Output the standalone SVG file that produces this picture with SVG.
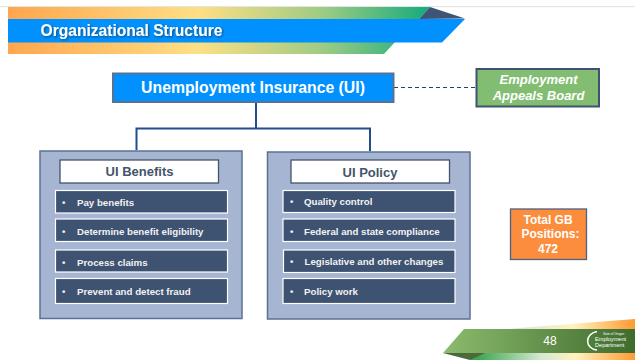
<svg xmlns="http://www.w3.org/2000/svg" width="635" height="360" viewBox="0 0 635 360">
<style>
text{font-family:"Liberation Sans",Arial,sans-serif;font-weight:700}
.panel{fill:#a5b5d2;stroke:#5a7194;stroke-width:1.5}
.head{fill:#fff;stroke:#44546a;stroke-width:1.3}
.headt{fill:#44546a;font-size:13px;text-anchor:middle}
.item{fill:#3e5271;stroke:#fff;stroke-width:1.2}
.itemt{fill:#f2f2f2;font-size:9.7px}
.wc{fill:#fff;text-anchor:middle}
.conn{fill:none;stroke:#1f4e8f;stroke-width:2}
.foot{fill:#fff;font-weight:400}
</style>
<defs>
<linearGradient id="g1" gradientUnits="userSpaceOnUse" x1="8" y1="0" x2="430" y2="0">
<stop offset="0" stop-color="#ffa64d"/><stop offset=".45" stop-color="#fedf85"/><stop offset=".75" stop-color="#9ccb84"/><stop offset="1" stop-color="#14ab7c"/>
</linearGradient>
<linearGradient id="g2" gradientUnits="userSpaceOnUse" x1="442" y1="0" x2="635" y2="0">
<stop offset="0" stop-color="#8cbc6e"/><stop offset="1" stop-color="#3f6b2d"/>
</linearGradient>
<linearGradient id="g3" gradientUnits="userSpaceOnUse" x1="510" y1="0" x2="635" y2="0">
<stop offset="0" stop-color="#cfe6d8"/><stop offset=".5" stop-color="#fff3c0"/><stop offset="1" stop-color="#ff9a33"/>
</linearGradient>
<linearGradient id="g4" gradientUnits="userSpaceOnUse" x1="478" y1="0" x2="635" y2="0">
<stop offset="0" stop-color="#3fa652"/><stop offset=".4" stop-color="#d5e8d0"/><stop offset=".62" stop-color="#fff3c0"/><stop offset="1" stop-color="#ff9a33"/>
</linearGradient>
<filter id="sh" x="-5%" y="-30%" width="110%" height="160%"><feDropShadow dx="1" dy="1" stdDeviation=".8" flood-color="#222" flood-opacity=".6"/></filter>
</defs>
<rect x="0" y="6" width="635" height="1.2" fill="#e4e4e4"/>
<g id="banner">
<polygon points="8,7 430,7 419,19 8,19" fill="url(#g1)"/>
<polygon points="8,42 395,42 384,54 8,54" fill="url(#g1)"/>
<polygon points="430,7 465,18.500 419,19" fill="#3e5575"/>
<polygon points="8,19 465,19 442,42.500 8,42.500" fill="#0091ff"/>
<text x="40.500" y="36" font-size="15.600" fill="#fff" filter="url(#sh)">Organizational Structure</text>
</g>
<g id="connectors">
<path class="conn" d="M256 102V128.500M136.500 150V128.500H370V151"/>
<path d="M394 87.500H476" fill="none" stroke="#1f3f75" stroke-width="1.200" stroke-dasharray="4 3"/>
</g>
<g id="node-ui">
<rect x="113" y="73.500" width="280.500" height="28.500" fill="#0091ff" stroke="#5a7194" stroke-width="2"/>
<text x="253" y="92.500" font-size="15.800" fill="#fff" text-anchor="middle">Unemployment Insurance (UI)</text>
</g>
<g id="node-appeals">
<rect x="476.500" y="69" width="122.500" height="37.500" fill="#82bd72" stroke="#3e5271" stroke-width="2"/>
<text x="538.500" y="84" font-size="13" font-style="italic" class="wc">Employment</text>
<text x="538.500" y="100" font-size="13" font-style="italic" class="wc">Appeals Board</text>
</g>
<g id="node-benefits">
<rect class="panel" x="40" y="151" width="202" height="167.500"/>
<rect class="head" x="60" y="160" width="158.500" height="23"/>
<text class="headt" x="139.500" y="176">UI Benefits</text>
<rect class="item" x="55.500" y="190.500" width="172" height="22.500"/>
<text class="itemt" x="62" y="206">•</text><text class="itemt" x="77" y="206">Pay benefits</text>
<rect class="item" x="55.500" y="219" width="172" height="22.500"/>
<text class="itemt" x="62" y="235">•</text><text class="itemt" x="77" y="235">Determine benefit eligibility</text>
<rect class="item" x="55.500" y="250" width="172" height="22"/>
<text class="itemt" x="62" y="265.500">•</text><text class="itemt" x="77" y="265.500">Process claims</text>
<rect class="item" x="55.500" y="278.500" width="172" height="25"/>
<text class="itemt" x="62" y="295">•</text><text class="itemt" x="77" y="295">Prevent and detect fraud</text>
</g>
<g id="node-policy">
<rect class="panel" x="267.500" y="152" width="202.500" height="167"/>
<rect class="head" x="291" y="160" width="158.500" height="23"/>
<text class="headt" x="370" y="176.500">UI Policy</text>
<rect class="item" x="283" y="190.500" width="172" height="22"/>
<text class="itemt" x="290" y="205">•</text><text class="itemt" x="304" y="205">Quality control</text>
<rect class="item" x="283" y="219" width="172" height="22.500"/>
<text class="itemt" x="290" y="234.500">•</text><text class="itemt" x="304" y="234.500">Federal and state compliance</text>
<rect class="item" x="283.500" y="250" width="171.500" height="22.500"/>
<text class="itemt" x="290" y="265">•</text><text class="itemt" x="304.500" y="265">Legislative and other changes</text>
<rect class="item" x="283" y="278.500" width="172" height="25"/>
<text class="itemt" x="290" y="295">•</text><text class="itemt" x="304" y="295">Policy work</text>
</g>
<g id="node-total">
<rect x="510.500" y="209" width="76" height="50.500" fill="#fb8d3d" stroke="#4f6080" stroke-width="1.300"/>
<text x="548" y="224" font-size="12" class="wc">Total GB</text>
<text x="550.500" y="238" font-size="12" class="wc">Positions:</text>
<text x="548" y="253" font-size="12" class="wc">472</text>
</g>
<g id="footer">
<polygon points="519,328 635,319 635,329 509,329" fill="url(#g3)"/>
<polygon points="478,353 635,353 635,360 470,360" fill="url(#g4)"/>
<polygon points="443,353 485,353 470,360" fill="#4a6a3a"/>
<polygon points="464,329 635,329 635,353 443,353" fill="url(#g2)"/>
<text class="foot" x="550" y="345" font-size="12" text-anchor="middle">48</text>
<path d="M597 331.500C584 334 585 349 597 350" fill="none" stroke="#fff" stroke-width="1.500"/>
<text class="foot" x="595" y="340.500" font-size="5.600">Employment</text>
<text class="foot" x="595" y="346.500" font-size="5.600">Department</text>
<text class="foot" x="603" y="334.500" font-size="3">State of Oregon</text>
</g>
</svg>
